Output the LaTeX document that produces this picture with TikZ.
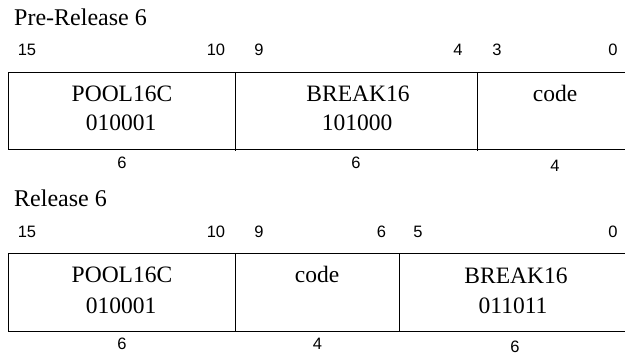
\documentclass[tikz,border=0pt]{standalone}
\usepackage{fontspec}
\setmainfont{Liberation Serif}
\newfontfamily\numfont{Liberation Sans}
\begin{document}
\begin{tikzpicture}[x=1pt,y=-1pt,
  title/.style={font=\fontsize{24}{28}\selectfont, anchor=base west, inner sep=0pt},
  bitnum/.style={font=\numfont\fontsize{16.5}{20}\selectfont, anchor=base, inner sep=0pt},
  fieldtxt/.style={font=\fontsize{23.5}{28}\selectfont, anchor=base, inner sep=0pt},
  boxline/.style={line width=1pt, line cap=rect}]
\useasboundingbox (0,0) rectangle (625,356);
% ---------- Pre-Release 6 ----------
\node[title] (t1) at (14,25) {Pre-Release 6};
\node[bitnum] (a15) at (27,56) {15};
\node[bitnum] (a10) at (216,56) {10};
\node[bitnum] (a9) at (259,56) {9};
\node[bitnum] (a4) at (458,56) {4};
\node[bitnum] (a3) at (497,56) {3};
\node[bitnum] (a0) at (613,56) {0};
\draw[boxline] (626,72.3) -- (8.3,72.3) -- (8.3,149.3) -- (626,149.3);
\draw[boxline] (235.3,72.3) -- (235.3,150.5);
\draw[boxline] (477.3,72.3) -- (477.3,150.5);
\node[fieldtxt] (p1) at (122,101.7) {POOL16C};
\node[fieldtxt] (p1b) at (121,130.7) {010001};
\node[fieldtxt] (b1) at (358,101.7) {BREAK16};
\node[fieldtxt] (b1b) at (357,130.7) {101000};
\node[fieldtxt] (c1) at (555,101.7) {code};
\node[bitnum] (w1) at (122,168) {6};
\node[bitnum] (w2) at (356,168) {6};
\node[bitnum] (w3) at (555,171) {4};
% ---------- Release 6 ----------
\node[title] (t2) at (14,206) {Release 6};
\node[bitnum] (r15) at (27,237.7) {15};
\node[bitnum] (r10) at (216,237.7) {10};
\node[bitnum] (r9) at (259,237.7) {9};
\node[bitnum] (r6) at (381.5,237.7) {6};
\node[bitnum] (r5) at (418,237.7) {5};
\node[bitnum] (r0) at (613,237.7) {0};
\draw[boxline] (626,253.7) -- (8.3,253.7) -- (8.3,331) -- (626,331);
\draw[boxline] (235.3,253.7) -- (235.3,331);
\draw[boxline] (399.3,253.7) -- (399.3,331);
\node[fieldtxt] (p2) at (122,282.7) {POOL16C};
\node[fieldtxt] (p2b) at (121,313.3) {010001};
\node[fieldtxt] (c2) at (317,282.7) {code};
\node[fieldtxt] (b2) at (516,283.3) {BREAK16};
\node[fieldtxt] (b2b) at (513,313.3) {011011};
\node[bitnum] (v1) at (122,349.3) {6};
\node[bitnum] (v2) at (317.5,349) {4};
\node[bitnum] (v3) at (515,352) {6};
\end{tikzpicture}
\end{document}
